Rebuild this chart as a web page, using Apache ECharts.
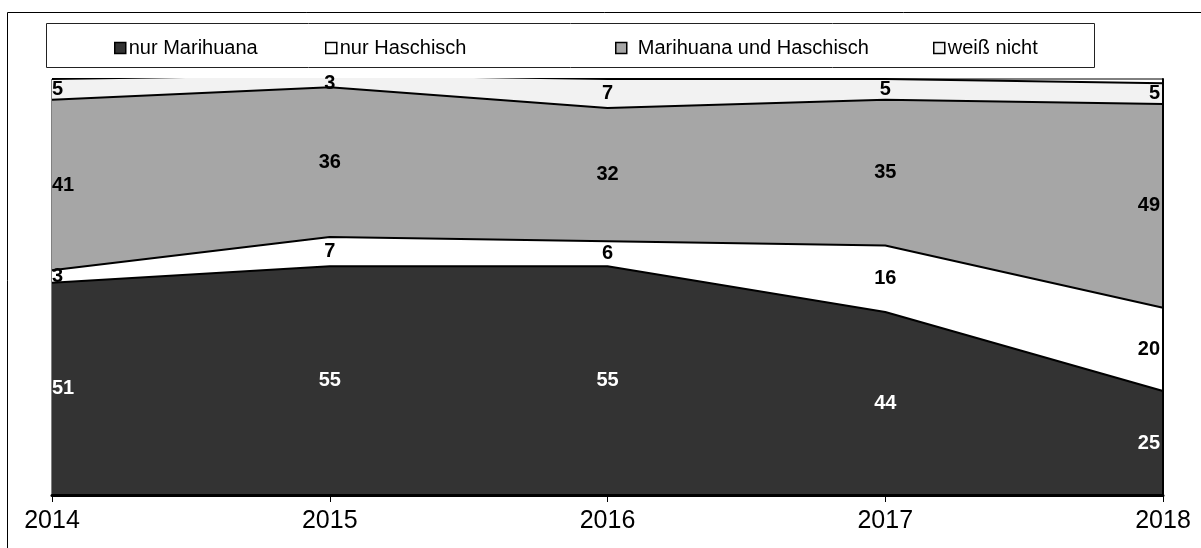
<!DOCTYPE html>
<html>
<head>
<meta charset="utf-8">
<script src="https://cdn.jsdelivr.net/npm/echarts@6/dist/echarts.min.js"></script>
<style>
  * { padding: 0; margin: 0; }
  body { background: #fff; }
</style>
</head>
<body>
<div id="chart" style="width: 1201px; height: 548px"></div>
<script>
const years = ["2014", "2015", "2016", "2017", "2018"];
const nurMarihuana = [51, 55, 55, 44, 25];
const nurHaschisch = [3, 7, 6, 16, 20];
const beides = [41, 36, 32, 35, 49];
const weissNicht = [5, 3, 7, 5, 5];

const names = ["nur Marihuana", "nur Haschisch", "Marihuana und Haschisch", "weiß nicht"];
const values = [nurMarihuana, nurHaschisch, beides, weissNicht];
const fills = ["#333333", "#ffffff", "#a6a6a6", "#f2f2f2"];
const labelColors = ["#ffffff", "#000000", "#000000", "#000000"];
const legendLeft = [109, 320, 610, 928];

const font = "Liberation Sans, Arial, sans-serif";

// stacked areas
const areaSeries = values.map((v, k) => ({
  name: names[k],
  type: "line",
  stack: "total",
  data: v,
  symbol: "none",
  lineStyle: { color: "#000", width: 2 },
  itemStyle: { color: fills[k] },
  areaStyle: { color: fills[k], opacity: 1 },
  z: 2,
}));

// value labels in the middle of each band
const labelSeries = values.map((v, k) => {
  const data = v.map((val, i) => {
    let bottom = 0;
    for (let j = 0; j < k; j++) bottom += values[j][i];
    const top = Math.min(bottom + val, 100);
    const item = { value: [i, (bottom + top) / 2, val] };
    if (i === 0) item.label = { position: "right", distance: 0 };
    if (i === v.length - 1) item.label = { position: "left", distance: 3 };
    return item;
  });
  return {
    name: names[k] + "_label",
    type: "scatter",
    data: data,
    symbolSize: 0,
    silent: true,
    itemStyle: { color: labelColors[k], opacity: 1 },
    z: 5,
    label: {
      show: true,
      position: "inside",
      formatter: (p) => p.value[2],
      color: labelColors[k],
      opacity: 1,
      textBorderWidth: 0,
      fontFamily: font,
      fontWeight: "bold",
      fontSize: 20,
    },
  };
});

const chart = echarts.init(document.getElementById("chart"));
chart.setOption({
  animation: false,
  graphic: [
    {
      type: "rect",
      z: -10,
      shape: { x: 7.5, y: 12.5, width: 1300, height: 600 },
      style: { fill: "none", stroke: "#000", lineWidth: 1 },
    },
    {
      type: "rect",
      z: -10,
      shape: { x: 46.5, y: 23.5, width: 1048, height: 44 },
      style: { fill: "none", stroke: "#222", lineWidth: 1 },
    },
  ],
  legend: names.map((n, k) => ({
    left: legendLeft[k],
    top: 33,
    icon: "rect",
    itemWidth: 11,
    itemHeight: 11,
    itemGap: 0,
    textStyle: { fontFamily: font, fontSize: 20, color: "#000", padding: [0, 0, 0, k === 2 ? 6 : -2] },
    data: [{ name: n, itemStyle: { color: fills[k], borderColor: "#000", borderWidth: 1.5 } }],
  })),
  grid: {
    left: 52,
    right: 38,
    top: 79,
    bottom: 53,
    show: true,
    borderColor: "#000",
    borderWidth: 1,
  },
  xAxis: {
    type: "category",
    data: years,
    boundaryGap: false,
    axisLine: { lineStyle: { color: "#000", width: 3 } },
    axisTick: { show: true, length: 7, lineStyle: { color: "#000", width: 1 } },
    axisLabel: { fontFamily: font, fontSize: 25, color: "#000", margin: 14 },
    splitLine: { show: false },
    z: 10,
  },
  yAxis: [
    {
      type: "value",
      min: 0,
      max: 100,
      axisLine: { show: true, lineStyle: { color: "#000", width: 1 } },
      axisTick: { show: false },
      axisLabel: { show: false },
      splitLine: { show: false },
    },
    {
      type: "value",
      position: "right",
      min: 0,
      max: 100,
      axisLine: { show: true, lineStyle: { color: "#000", width: 2 } },
      axisTick: { show: false },
      axisLabel: { show: false },
      splitLine: { show: false },
      z: 10,
    },
  ],
  series: areaSeries.concat(labelSeries),
});
</script>
</body>
</html>
